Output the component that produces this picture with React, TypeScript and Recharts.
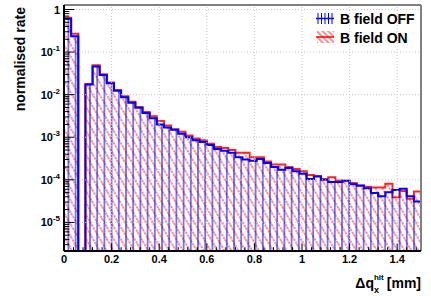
import React from 'react';
import { ComposedChart, Area, XAxis, YAxis, ReferenceLine } from 'recharts';

// Histogram bins (lower edges), last edge closes the histogram
const binLowEdges = [
  0, 0.03, 0.06, 0.09, 0.12, 0.15, 0.18, 0.21, 0.24, 0.27,
  0.3, 0.33, 0.36, 0.39, 0.42, 0.45, 0.48, 0.51, 0.54, 0.57,
  0.6, 0.63, 0.66, 0.69, 0.72, 0.75, 0.78, 0.81, 0.84, 0.87,
  0.9, 0.93, 0.96, 0.99, 1.02, 1.05, 1.08, 1.11, 1.14, 1.17,
  1.2, 1.23, 1.26, 1.29, 1.32, 1.35, 1.38, 1.41, 1.44, 1.47,
];
const histUpperEdge = 1.5;

const bFieldOff = [
  0.61, 0.235, 0, 0.0173, 0.046, 0.029, 0.0185, 0.0124, 0.0087, 0.0065,
  0.0049, 0.0037, 0.0028, 0.002, 0.0017, 0.0015, 0.0012, 0.001, 0.00085, 0.00077,
  0.00066, 0.00053, 0.00048, 0.00043, 0.00034, 0.0003, 0.00028, 0.00031, 0.00025, 0.0002,
  0.000173, 0.00019, 0.00016, 0.000138, 0.000105, 0.00012, 0.0001, 0.000089, 0.000089, 0.000095,
  0.000079, 0.000074, 0.000063, 0.000049, 0.000041, 0.000051, 0.000058, 0.000062, 0.000041, 0.000031,
];

const bFieldOn = [
  0.64, 0.27, 0, 0.0178, 0.049, 0.03, 0.0192, 0.0128, 0.0092, 0.0068,
  0.0051, 0.0039, 0.0031, 0.0024, 0.0019, 0.00155, 0.00135, 0.0011, 0.00093, 0.00085,
  0.0007, 0.00059, 0.00056, 0.0005, 0.00043, 0.00043, 0.00034, 0.00034, 0.00027, 0.00023,
  0.00023, 0.0002, 0.00018, 0.00016, 0.00013, 0.000123, 0.000105, 0.000115, 0.000096, 0.000095,
  0.000084, 0.000073, 0.000069, 0.000066, 0.000066, 0.000081, 0.000039, 0.000055, 0.000036, 0.000053,
];

const seriesNames = ['B field OFF', 'B field ON'];
const xMajorTicks = [0, 0.2, 0.4, 0.6, 0.8, 1, 1.2, 1.4];
const xTickLabels = ['0', '0.2', '0.4', '0.6', '0.8', '1', '1.2', '1.4'];
const yDecadeTicks = [1e-5, 1e-4, 1e-3, 1e-2, 1e-1, 1];
const yDecadeExponents = [-5, -4, -3, -2, -1, 0];

const Y_MIN = 2.13e-6;
const Y_MAX = 1.276;
const EMPTY_FLOOR = 1e-9;

const xMinorTicks: number[] = [];
for (let k = 0; k <= 37; k++) {
  const v = Math.round(k * 0.04 * 1000) / 1000;
  if (!xMajorTicks.some((m) => Math.abs(m - v) < 1e-9)) xMinorTicks.push(v);
}
const xTicks = [...xMajorTicks, ...xMinorTicks].sort((a, b) => a - b);

const yMinorTicks: number[] = [];
for (let d = -6; d <= 0; d++) {
  for (let m = 2; m <= 9; m++) {
    const v = m * Math.pow(10, d);
    if (v > Y_MIN && v < Y_MAX) yMinorTicks.push(v);
  }
}
const yTicks = [...yDecadeTicks, ...yMinorTicks].sort((a, b) => a - b);

const data = [
  ...binLowEdges.map((x, i) => ({
    x,
    off: bFieldOff[i] > 0 ? bFieldOff[i] : EMPTY_FLOOR,
    on: bFieldOn[i] > 0 ? bFieldOn[i] : EMPTY_FLOOR,
  })),
  {
    x: histUpperEdge,
    off: bFieldOff[bFieldOff.length - 1],
    on: bFieldOn[bFieldOn.length - 1],
  },
];

const FONT = '"Liberation Sans", Arial, Helvetica, sans-serif';

const XTick = (props: any) => {
  const { x, y, payload } = props;
  const v = payload.value;
  const idx = xMajorTicks.findIndex((m) => Math.abs(m - v) < 1e-9);
  const major = idx >= 0;
  const len = major ? 7.5 : 3.8;
  return (
    <g>
      <line x1={x} x2={x} y1={y} y2={y - len} stroke="#000" strokeWidth={1} />
      {major && (
        <text x={x} y={y + 11.5} textAnchor="middle" fontFamily={FONT} fontWeight="bold" fontSize={11} fill="#000">
          {xTickLabels[idx]}
        </text>
      )}
    </g>
  );
};

const YTick = (props: any) => {
  const { x, y, payload } = props;
  const v = payload.value;
  const idx = yDecadeTicks.findIndex((m) => Math.abs(Math.log10(m) - Math.log10(v)) < 1e-6);
  const major = idx >= 0;
  const len = major ? 10.5 : 5.3;
  const exp = major ? yDecadeExponents[idx] : 0;
  return (
    <g>
      <line x1={x} x2={x + len} y1={y} y2={y} stroke="#000" strokeWidth={1} />
      {major && (
        <text x={x - 4} y={y + 4} textAnchor="end" fontFamily={FONT} fontWeight="bold" fontSize={11} fill="#000">
          {exp === 0 ? (
            '1'
          ) : (
            <>
              <tspan>10</tspan>
              <tspan dy={-5} fontSize={8}>{`-${-exp}`}</tspan>
            </>
          )}
        </text>
      )}
    </g>
  );
};

const gridStyle = { stroke: '#c8c8c8', strokeWidth: 1, strokeDasharray: '1 2' };

export default function App() {
  return (
    <div style={{ position: 'absolute', left: 0, top: 0, width: 431, height: 296, background: '#fff' }}>
      <ComposedChart
        width={431}
        height={296}
        data={data}
        margin={{ top: 5, right: 10, bottom: 0, left: 8 }}
      >
        <defs>
          <pattern id="hatchBlue" patternUnits="userSpaceOnUse" width="7.2" height="10">
            <line x1="3.6" y1="0" x2="3.6" y2="10" stroke="#0000ff" strokeWidth="1" />
          </pattern>
          <pattern id="hatchRed" patternUnits="userSpaceOnUse" width="6" height="10" patternTransform="rotate(-30)">
            <line x1="3" y1="0" x2="3" y2="10" stroke="#ff2020" strokeWidth="1" strokeDasharray="2.5 1" />
          </pattern>
        </defs>
        {xMajorTicks.slice(1).map((t) => (
          <ReferenceLine key={'gx' + t} x={t} {...gridStyle} />
        ))}
        {yDecadeTicks.map((t) => (
          <ReferenceLine key={'gy' + t} y={t} {...gridStyle} />
        ))}
        <XAxis
          dataKey="x"
          type="number"
          domain={[0, histUpperEdge]}
          allowDataOverflow
          ticks={xTicks}
          interval={0}
          height={45}
          tickSize={0}
          tickMargin={0}
          tickLine={false}
          tick={<XTick />}
          axisLine={{ stroke: '#000', strokeWidth: 2 }}
        />
        <YAxis
          type="number"
          scale="log"
          domain={[Y_MIN, Y_MAX]}
          allowDataOverflow
          ticks={yTicks}
          interval={0}
          width={56}
          tickSize={0}
          tickMargin={0}
          tickLine={false}
          tick={<YTick />}
          axisLine={{ stroke: '#000', strokeWidth: 2 }}
        />
        <Area
          type="stepAfter"
          dataKey="on"
          name={seriesNames[1]}
          stroke="#ff0000"
          strokeWidth={2}
          strokeOpacity={0.85}
          fill="url(#hatchRed)"
          fillOpacity={1}
          dot={false}
          activeDot={false}
          isAnimationActive={false}
        />
        <Area
          type="stepAfter"
          dataKey="off"
          name={seriesNames[0]}
          stroke="#0000ff"
          strokeWidth={2}
          fill="url(#hatchBlue)"
          fillOpacity={1}
          dot={false}
          activeDot={false}
          isAnimationActive={false}
        />
        <ReferenceLine y={Y_MAX} stroke="#808080" strokeWidth={2} />
        <ReferenceLine x={histUpperEdge} stroke="#808080" strokeWidth={2} />
      </ComposedChart>
      <svg
        width={431}
        height={296}
        style={{ position: 'absolute', left: 0, top: 0, pointerEvents: 'none' }}
      >
        <defs>
          <pattern id="legHatchRed" patternUnits="userSpaceOnUse" width="4" height="10" patternTransform="rotate(-45)">
            <line x1="2" y1="0" x2="2" y2="10" stroke="#ff2020" strokeWidth="1" />
          </pattern>
        </defs>
        {/* y-axis title */}
        <text
          transform="translate(25, 7) rotate(-90)"
          textAnchor="end"
          fontFamily={FONT}
          fontWeight="bold"
          fontSize={14}
          fill="#000"
        >
          normalised rate
        </text>
        {/* x-axis title */}
        <text x={421} y={288} textAnchor="end" fontFamily={FONT} fontWeight="bold" fontSize={14} fill="#000">
          <tspan>Δq</tspan>
          <tspan dy={5} fontSize={9}>x</tspan>
          <tspan dx={-5} dy={-13} fontSize={8}>hit</tspan>
          <tspan dy={8} dx={3}>[mm]</tspan>
        </text>
        {/* legend */}
        <g>
          {[318, 321.5, 325, 328.5, 332].map((lx) => (
            <line key={lx} x1={lx} x2={lx} y1={13} y2={24} stroke="#0000ff" strokeWidth={1} />
          ))}
          <line x1={316} x2={334} y1={18.5} y2={18.5} stroke="#0000ff" strokeWidth={1.5} />
          <text x={340} y={24} fontFamily={FONT} fontWeight="bold" fontSize={14} fill="#000">
            {seriesNames[0]}
          </text>
          <rect x={317} y={31} width={17} height={12} fill="url(#legHatchRed)" />
          <line x1={316} x2={334} y1={37} y2={37} stroke="#ff0000" strokeWidth={1.5} />
          <text x={340} y={42.5} fontFamily={FONT} fontWeight="bold" fontSize={14} fill="#000">
            {seriesNames[1]}
          </text>
        </g>
      </svg>
    </div>
  );
}
